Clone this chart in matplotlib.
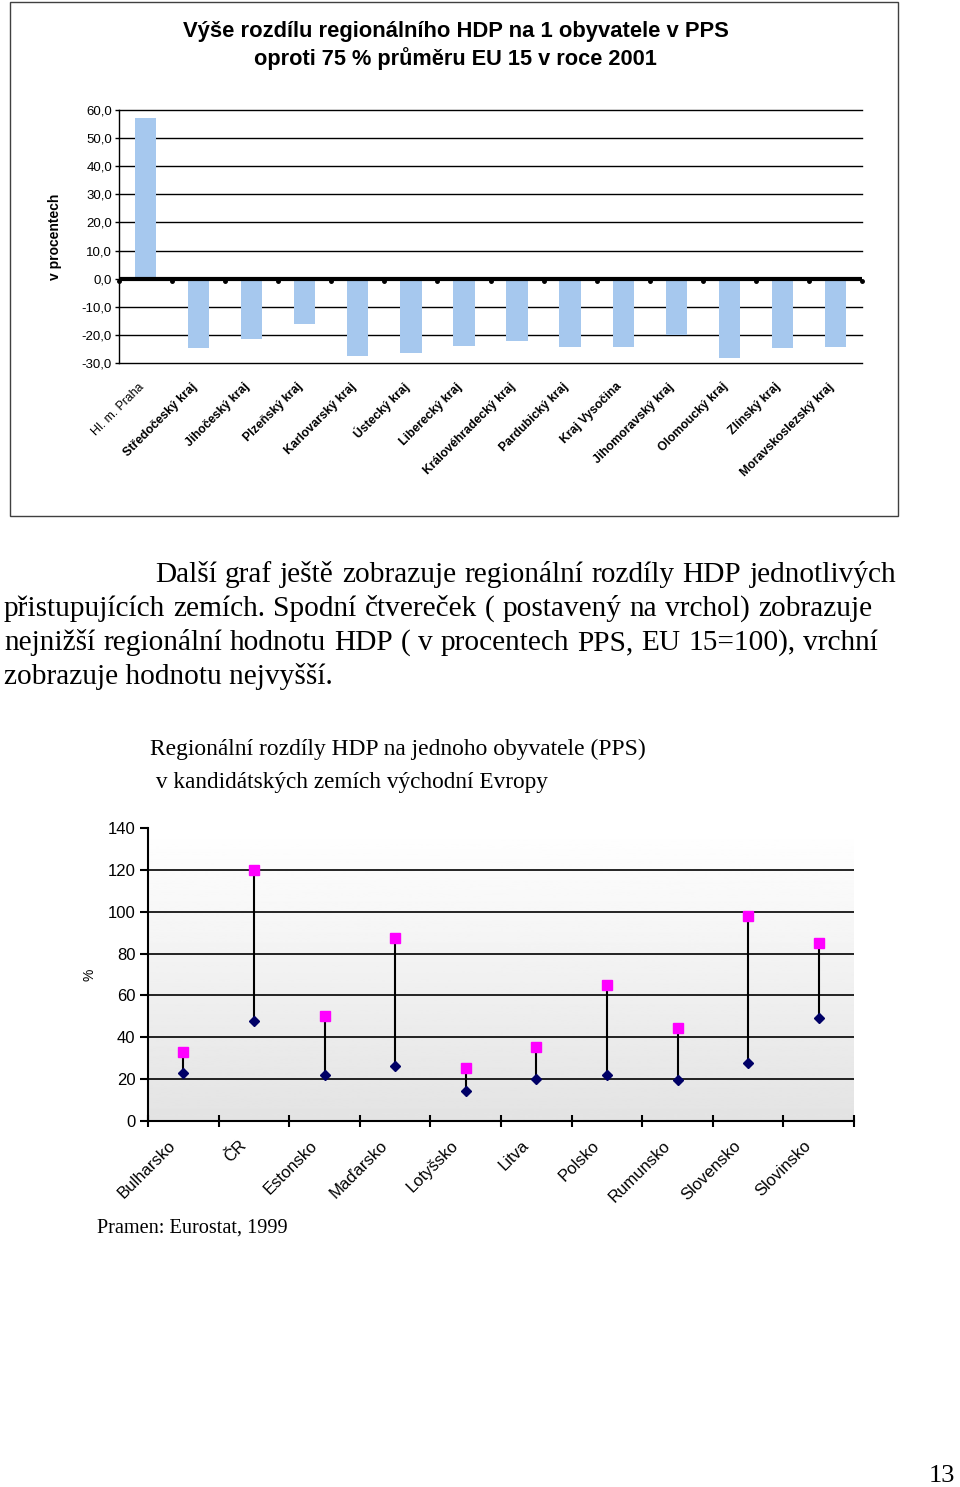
import numpy as np
import matplotlib
matplotlib.use("Agg")
import matplotlib.pyplot as plt
import matplotlib.transforms as mtransforms
from matplotlib.patches import Rectangle

# ---------------- data ----------------
regions = ["Hl. m. Praha", "Středočeský kraj", "Jihočeský kraj", "Plzeňský kraj",
           "Karlovarský kraj", "Ústecký kraj", "Liberecký kraj", "Královéhradecký kraj",
           "Pardubický kraj", "Kraj Vysočina", "Jihomoravský kraj", "Olomoucký kraj",
           "Zlínský kraj", "Moravskoslezský kraj"]
region_diff = [57.0, -24.5, -21.6, -16.1, -27.6, -26.6, -24.0, -22.1,
               -24.3, -24.3, -20.0, -28.1, -24.6, -24.3]
yticks1 = [-30, -20, -10, 0, 10, 20, 30, 40, 50, 60]

countries = ["Bulharsko", "ČR", "Estonsko", "Maďarsko", "Lotyšsko", "Litva",
             "Polsko", "Rumunsko", "Slovensko", "Slovinsko"]
gdp_max = [33.0, 120.0, 50.3, 87.5, 25.4, 35.3, 65.0, 44.2, 98.0, 85.2]
gdp_min = [22.7, 47.7, 21.9, 26.3, 14.4, 20.3, 21.9, 19.5, 27.9, 49.2]
yticks2 = [0, 20, 40, 60, 80, 100, 120, 140]

title1 = ["Výše rozdílu regionálního HDP na 1 obyvatele v PPS",
          "oproti 75 % průměru EU 15 v roce 2001"]
title2 = ["Regionální rozdíly HDP na jednoho obyvatele (PPS)",
          " v kandidátských zemích východní Evropy"]
paragraph = ["Další graf ještě zobrazuje regionální rozdíly HDP jednotlivých",
             "přistupujících zemích. Spodní čtvereček ( postavený na vrchol) zobrazuje",
             "nejnižší regionální hodnotu HDP ( v procentech PPS, EU 15=100), vrchní",
             "zobrazuje hodnotu nejvyšší."]
source = "Pramen: Eurostat, 1999"

# ---------------- figure ----------------
W, H = 960, 1487
fig = plt.figure(figsize=(W / 100, H / 100), dpi=100)
fig.patch.set_facecolor("white")
renderer = fig.canvas.get_renderer()


def fx(x):
    return x / W


def fy(y):
    return 1 - y / H


def text_width(t):
    return t.get_window_extent(renderer=renderer).width


def fit_text(x, y, s, target_w, **kw):
    t = fig.text(fx(x), fy(y), s, fontsize=10, **kw)
    w = text_width(t)
    t.set_fontsize(10 * target_w / w)
    return t


def fit_size(s, target_w, **kw):
    t = fig.text(0, 0, s, fontsize=10, **kw)
    w = text_width(t)
    t.remove()
    return 10 * target_w / w


# ---------------- chart 1 frame ----------------
fig.patches.append(Rectangle((fx(10), fy(516)), fx(888), (516 - 2) / H,
                             transform=fig.transFigure, fill=False,
                             edgecolor="#404040", linewidth=1.0))

sans = ["Liberation Sans", "DejaVu Sans"]
serif = ["Liberation Serif", "DejaVu Serif"]

# Title 1
fit_text(455.5, 37, title1[0], 545, ha="center", va="baseline", family=sans, fontweight="bold")
fit_text(455.5, 65, title1[1], 404, ha="center", va="baseline", family=sans, fontweight="bold")

# ---------------- chart 1 axes ----------------
left1, right1, top1, bot1 = 119, 862, 110, 363
ax1 = fig.add_axes([fx(left1), fy(bot1), (right1 - left1) / W, (bot1 - top1) / H])
n1 = len(regions)
x1 = np.arange(n1)
ax1.set_xlim(-0.5, n1 - 0.5)
ax1.set_ylim(-30, 60)
for v in yticks1:
    if v != 0:
        ax1.axhline(v, color="black", linewidth=1.0, zorder=1, clip_on=False)
ax1.bar(x1, region_diff, width=0.4, color="#A6C8EE", zorder=2)
ax1.axhline(0, color="black", linewidth=3.0, zorder=3)
# category boundary dots on zero line
ax1.plot(np.arange(n1 + 1) - 0.5, np.full(n1 + 1, -1.0), linestyle="none",
         marker="o", markersize=2.5, color="black", zorder=3, clip_on=False)
for s in ["top", "right", "bottom"]:
    ax1.spines[s].set_visible(False)
ax1.spines["left"].set_linewidth(1.0)
ax1.set_yticks(yticks1)
ax1.set_yticklabels([f"{v:.1f}".replace(".", ",") for v in yticks1],
                    fontsize=9.5, family=sans)
ax1.tick_params(axis="y", length=3, width=1, pad=2)
ax1.set_xticks([])
ax1.set_ylabel("v procentech", fontsize=10, fontweight="bold", family=sans, labelpad=14)
ax1.patch.set_alpha(0)

lab_tr1 = mtransforms.blended_transform_factory(ax1.transData, ax1.transAxes)
for i, name in enumerate(regions):
    ax1.text(i - 0.07, -22 / (bot1 - top1), name, transform=lab_tr1, rotation=45,
             rotation_mode="anchor", ha="right", va="center", fontsize=8.8,
             family=sans, fontweight="normal" if i == 0 else "bold")

# ---------------- paragraph ----------------
par_size = fit_size(paragraph[3], 329, family=serif)
line_specs = [(155, 896, 582, True), (4, 872, 616, True), (4, 878, 650, True), (4, None, 684, False)]
for line, (xs, xe, yb, justify) in zip(paragraph, line_specs):
    if not justify:
        fig.text(fx(xs), fy(yb), line, fontsize=par_size, family=serif, va="baseline", ha="left")
        continue
    words = line.split(" ")
    widths = []
    for wd in words:
        t = fig.text(0, 0, wd, fontsize=par_size, family=serif)
        widths.append(text_width(t))
        t.remove()
    gap = ((xe - xs) - sum(widths)) / (len(words) - 1)
    cx = xs
    for wd, w in zip(words, widths):
        fig.text(fx(cx), fy(yb), wd, fontsize=par_size, family=serif, va="baseline", ha="left")
        cx += w + gap

# ---------------- chart 2 ----------------
fit_text(150, 755, title2[0], 498, ha="left", va="baseline", family=serif)
fit_text(150, 788, title2[1], 398, ha="left", va="baseline", family=serif)

left2, right2, top2, bot2 = 148, 854, 828, 1121
ax2 = fig.add_axes([fx(left2), fy(bot2), (right2 - left2) / W, (bot2 - top2) / H])
n2 = len(countries)
x2 = np.arange(n2)
ax2.set_xlim(-0.5, n2 - 0.5)
ax2.set_ylim(0, 140)
grad = np.linspace(0.89, 1.0, 256).reshape(-1, 1)
ax2.imshow(grad, extent=[-0.5, n2 - 0.5, 0, 140], origin="lower", aspect="auto",
           cmap="gray", vmin=0, vmax=1, zorder=0)
for v in yticks2[1:-1]:
    ax2.axhline(v, color="black", linewidth=1.2, zorder=1)
ax2.vlines(x2, gdp_min, gdp_max, color="black", linewidth=1.5, zorder=2)
ax2.plot(x2, gdp_max, linestyle="none", marker="s", markersize=6.8,
         color="#FF00FF", zorder=3)
ax2.plot(x2, gdp_min, linestyle="none", marker="D", markersize=5.5,
         color="#000066", zorder=3)
for s in ["top", "right"]:
    ax2.spines[s].set_visible(False)
ax2.spines["left"].set_linewidth(1.5)
ax2.spines["bottom"].set_linewidth(1.5)
ax2.set_yticks(yticks2)
ax2.set_yticklabels([str(v) for v in yticks2], fontsize=12, family=sans)
ax2.tick_params(axis="y", length=6, width=1.5, pad=3)
ax2.set_xticks(np.arange(n2 + 1) - 0.5)
ax2.set_xticklabels([])
ax2.tick_params(axis="x", direction="inout", length=9, width=1.5)
ax2.set_ylabel("%", fontsize=10, family=sans, labelpad=8)

lab_tr2 = mtransforms.blended_transform_factory(ax2.transData, ax2.transAxes)
for i, name in enumerate(countries):
    ax2.text(i - 0.14, -22 / (bot2 - top2), name, transform=lab_tr2, rotation=45,
             rotation_mode="anchor", ha="right", va="center", fontsize=12,
             family=sans)

fit_text(97, 1233, source, 191, ha="left", va="baseline", family=serif)

# page number
fig.text(fx(955), fy(1482), "13", fontsize=par_size * 0.9, family=serif,
         ha="right", va="baseline")

fig.savefig("out.png", dpi=100)
